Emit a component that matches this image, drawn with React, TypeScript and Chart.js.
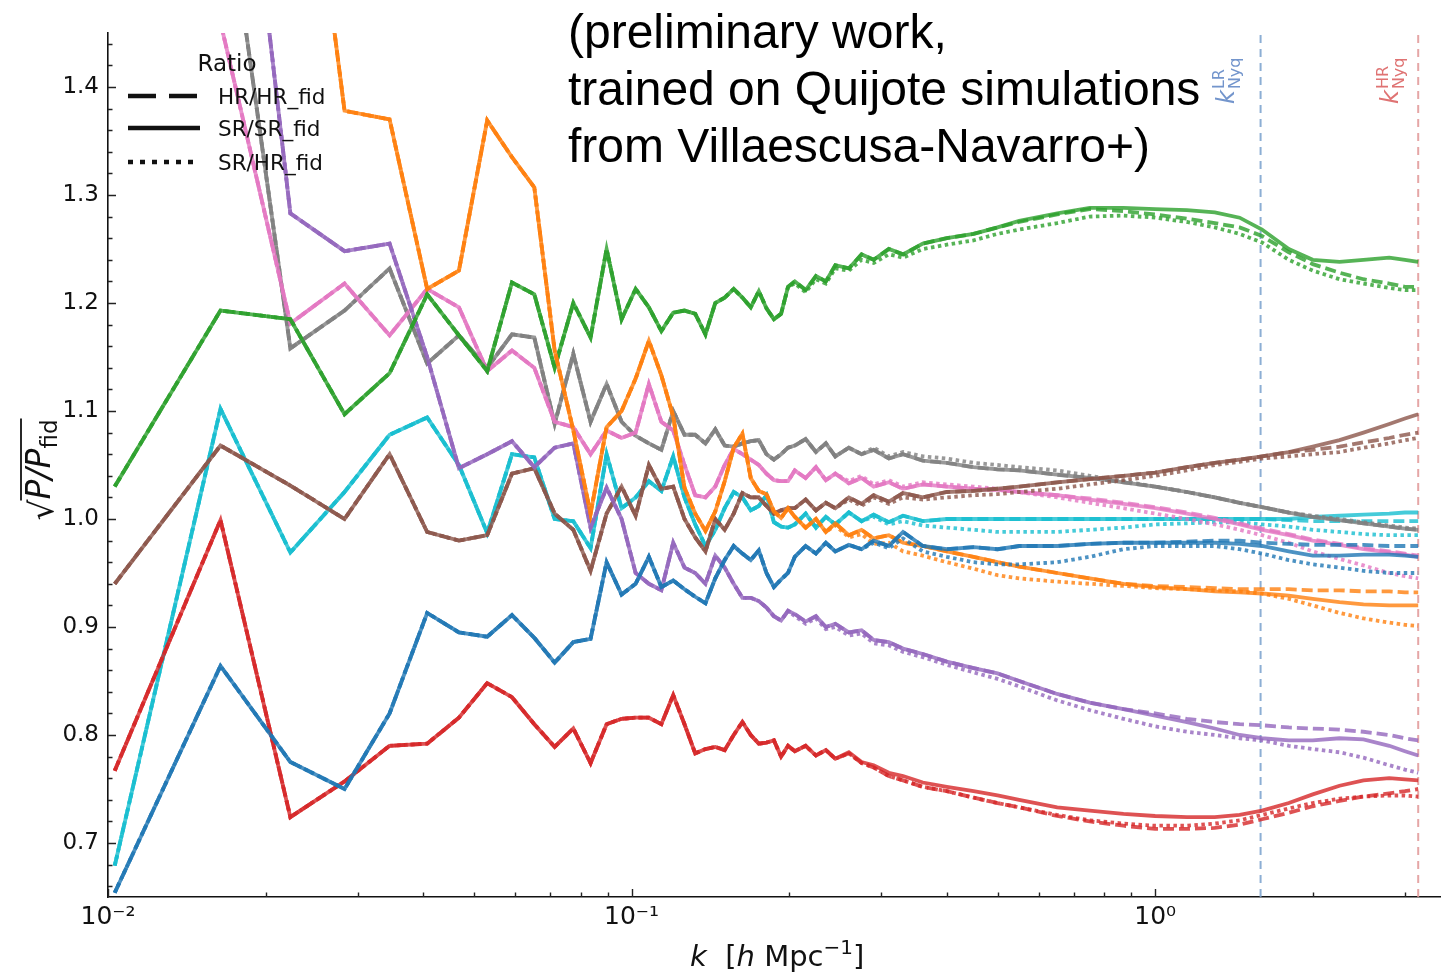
import { useEffect, useRef } from "react";
import { Chart, registerables } from "chart.js";
Chart.register(...registerables);

// k grid (h/Mpc): linearly binned low-k part, then coarser high-k part
const kLow = [0.0103, 0.0164, 0.0223, 0.0283, 0.0345, 0.0407, 0.0468, 0.053, 0.0591, 0.0652, 0.0713, 0.0774, 0.0835, 0.0896, 0.0957, 0.1018, 0.1079, 0.114, 0.1201, 0.1262, 0.1323, 0.1384, 0.1445, 0.1506, 0.1567, 0.1628, 0.1689, 0.175, 0.181, 0.187, 0.193, 0.199];
const kHigh = [0.205, 0.215, 0.225, 0.235, 0.245, 0.26, 0.275, 0.29, 0.31, 0.33, 0.36, 0.4, 0.45, 0.5, 0.55, 0.65, 0.75, 0.87, 1.0, 1.15, 1.3, 1.45, 1.6, 1.8, 2.0, 2.25, 2.5, 2.8, 3.0, 3.18];

// low-k values (all three ratios coincide there)
const blueLow = [0.654, 0.864, 0.775, 0.75, 0.82, 0.913, 0.895, 0.891, 0.911, 0.89, 0.867, 0.886, 0.889, 0.96, 0.93, 0.94, 0.965, 0.937, 0.943, 0.935, 0.928, 0.922, 0.945, 0.962, 0.975, 0.968, 0.962, 0.971, 0.95, 0.937, 0.944, 0.95];
const orangeLow = [2.6, 2.2, 1.77, 1.378, 1.37, 1.213, 1.23, 1.369, 1.335, 1.307, 1.156, 1.082, 1.005, 1.085, 1.1, 1.13, 1.165, 1.133, 1.095, 1.029, 1.005, 0.989, 1.007, 1.035, 1.066, 1.079, 1.038, 1.026, 1.023, 1.007, 1.001, 1.01];
const greenLow = [1.03, 1.193, 1.185, 1.097, 1.135, 1.208, 1.17, 1.137, 1.219, 1.208, 1.14, 1.2, 1.168, 1.25, 1.185, 1.213, 1.196, 1.174, 1.191, 1.193, 1.19, 1.171, 1.2, 1.205, 1.213, 1.205, 1.196, 1.211, 1.195, 1.185, 1.19, 1.215];
const redLow = [0.767, 0.999, 0.724, 0.757, 0.79, 0.792, 0.816, 0.848, 0.835, 0.81, 0.789, 0.806, 0.774, 0.81, 0.815, 0.816, 0.816, 0.81, 0.837, 0.81, 0.783, 0.787, 0.789, 0.786, 0.8, 0.812, 0.8, 0.792, 0.793, 0.795, 0.78, 0.79];
const purpleLow = [2.4, 1.84, 1.283, 1.248, 1.255, 1.15, 1.047, 1.06, 1.072, 1.048, 1.066, 1.07, 0.992, 1.029, 1.0, 0.95, 0.94, 0.934, 0.978, 0.955, 0.95, 0.94, 0.966, 0.955, 0.94, 0.927, 0.927, 0.924, 0.918, 0.91, 0.906, 0.915];
const brownLow = [0.94, 1.068, 1.031, 1.0, 1.06, 0.988, 0.98, 0.985, 1.042, 1.047, 1.005, 0.99, 0.952, 1.005, 1.03, 1.003, 1.05, 1.028, 1.03, 1.0, 0.983, 0.97, 1.0, 0.99, 1.005, 1.024, 1.02, 1.02, 1.012, 1.005, 1.008, 1.01];
const pinkLow = [2.0, 1.46, 1.181, 1.218, 1.17, 1.213, 1.196, 1.137, 1.156, 1.14, 1.09, 1.085, 1.06, 1.082, 1.075, 1.08, 1.125, 1.09, 1.082, 1.05, 1.022, 1.02, 1.03, 1.05, 1.065, 1.06, 1.055, 1.05, 1.042, 1.036, 1.035, 1.035];
const grayLow = [2.2, 1.62, 1.158, 1.193, 1.232, 1.144, 1.17, 1.14, 1.171, 1.168, 1.088, 1.153, 1.09, 1.125, 1.09, 1.077, 1.07, 1.064, 1.1, 1.078, 1.078, 1.07, 1.083, 1.068, 1.067, 1.07, 1.072, 1.073, 1.06, 1.055, 1.06, 1.066];
const cyanLow = [0.679, 1.102, 0.969, 1.025, 1.078, 1.094, 1.05, 0.987, 1.06, 1.057, 1.0, 0.998, 0.973, 1.06, 1.01, 1.02, 1.035, 1.026, 1.058, 1.02, 0.995, 0.975, 0.99, 1.01, 1.025, 1.02, 1.008, 1.012, 1.022, 0.997, 0.993, 0.992];

// high-k values per ratio: HR/HR_fid (dashed), SR/SR_fid (solid), SR/HR_fid (dotted)
const blueDashed = [0.965, 0.975, 0.968, 0.978, 0.97, 0.976, 0.972, 0.98, 0.975, 0.988, 0.975, 0.972, 0.974, 0.972, 0.975, 0.975, 0.977, 0.978, 0.978, 0.979, 0.98, 0.98, 0.978, 0.977, 0.976, 0.976, 0.976, 0.975, 0.975, 0.975];
const blueSolid = [0.965, 0.975, 0.968, 0.978, 0.97, 0.976, 0.972, 0.98, 0.975, 0.988, 0.975, 0.972, 0.974, 0.972, 0.975, 0.975, 0.977, 0.978, 0.978, 0.978, 0.978, 0.977, 0.975, 0.97, 0.966, 0.966, 0.967, 0.967, 0.966, 0.965];
const blueDotted = [0.965, 0.975, 0.968, 0.978, 0.97, 0.976, 0.972, 0.978, 0.973, 0.982, 0.97, 0.965, 0.96, 0.958, 0.958, 0.96, 0.965, 0.972, 0.975, 0.975, 0.975, 0.972, 0.968, 0.962, 0.958, 0.955, 0.952, 0.95, 0.95, 0.95];

const orangeDashed = [1.002, 0.992, 1.0, 0.988, 0.996, 0.985, 0.99, 0.982, 0.985, 0.978, 0.975, 0.97, 0.965, 0.96, 0.956, 0.95, 0.945, 0.94, 0.938, 0.937, 0.936, 0.935, 0.935, 0.935, 0.934, 0.934, 0.933, 0.933, 0.932, 0.932];
const orangeSolid = [1.002, 0.992, 1.0, 0.988, 0.996, 0.985, 0.99, 0.982, 0.985, 0.978, 0.975, 0.97, 0.965, 0.96, 0.956, 0.95, 0.945, 0.94, 0.937, 0.935, 0.933, 0.932, 0.931, 0.929, 0.926, 0.923, 0.921, 0.92, 0.92, 0.92];
const orangeDotted = [1.002, 0.992, 1.0, 0.988, 0.994, 0.983, 0.986, 0.977, 0.978, 0.97, 0.966, 0.96, 0.954, 0.948, 0.945, 0.942, 0.94, 0.938, 0.936, 0.935, 0.934, 0.933, 0.931, 0.926, 0.92, 0.913, 0.908, 0.904, 0.902, 0.901];

const greenDashed = [1.22, 1.212, 1.225, 1.22, 1.235, 1.232, 1.245, 1.24, 1.25, 1.245, 1.255, 1.26, 1.264, 1.27, 1.275, 1.282, 1.287, 1.285, 1.282, 1.278, 1.274, 1.27, 1.262, 1.247, 1.236, 1.228, 1.222, 1.218, 1.215, 1.215];
const greenSolid = [1.22, 1.212, 1.225, 1.22, 1.235, 1.232, 1.245, 1.24, 1.25, 1.245, 1.255, 1.26, 1.264, 1.27, 1.276, 1.283, 1.288, 1.288, 1.287, 1.286, 1.284, 1.279, 1.268, 1.25, 1.24, 1.238, 1.24, 1.242, 1.24, 1.238];
const greenDotted = [1.218, 1.21, 1.222, 1.218, 1.232, 1.23, 1.24, 1.237, 1.245, 1.242, 1.25, 1.254, 1.258, 1.264, 1.268, 1.274, 1.28, 1.281, 1.279, 1.275, 1.27, 1.264, 1.256, 1.24, 1.23, 1.222, 1.218, 1.214, 1.212, 1.212];

const redDashed = [0.785, 0.79, 0.781, 0.786, 0.778, 0.783, 0.774, 0.77, 0.762, 0.758, 0.752, 0.748, 0.742, 0.737, 0.733, 0.725, 0.72, 0.716, 0.713, 0.713, 0.714, 0.717, 0.722, 0.728, 0.734, 0.739, 0.743, 0.746, 0.748, 0.75];
const redSolid = [0.785, 0.79, 0.781, 0.786, 0.778, 0.784, 0.775, 0.772, 0.765, 0.762, 0.756, 0.752, 0.748, 0.744, 0.74, 0.733, 0.73, 0.727, 0.725, 0.724, 0.724, 0.726, 0.73, 0.737, 0.745, 0.753, 0.758, 0.76, 0.759, 0.758];
const redDotted = [0.785, 0.79, 0.781, 0.786, 0.778, 0.783, 0.774, 0.77, 0.762, 0.758, 0.752, 0.748, 0.742, 0.737, 0.733, 0.726, 0.721, 0.718, 0.716, 0.716, 0.718, 0.721, 0.726, 0.732, 0.737, 0.741, 0.743, 0.744, 0.744, 0.743];

const purpleDashed = [0.912, 0.905, 0.91, 0.9, 0.903, 0.895, 0.897, 0.888, 0.886, 0.88, 0.875, 0.868, 0.862, 0.857, 0.85, 0.838, 0.83, 0.824, 0.82, 0.815, 0.812, 0.81, 0.809, 0.807, 0.806, 0.805, 0.803, 0.8, 0.797, 0.795];
const purpleSolid = [0.912, 0.905, 0.91, 0.9, 0.903, 0.895, 0.897, 0.888, 0.886, 0.88, 0.875, 0.868, 0.862, 0.857, 0.85, 0.838, 0.83, 0.824, 0.818, 0.812, 0.806, 0.8, 0.797, 0.795, 0.795, 0.797, 0.796, 0.79, 0.785, 0.781];
const purpleDotted = [0.91, 0.903, 0.908, 0.898, 0.9, 0.892, 0.894, 0.885, 0.883, 0.877, 0.872, 0.865, 0.858, 0.852, 0.845, 0.832, 0.823, 0.815, 0.808, 0.803, 0.8, 0.797, 0.795, 0.79, 0.787, 0.784, 0.779, 0.772, 0.768, 0.765];

const brownDashed = [1.01, 1.018, 1.008, 1.015, 1.01, 1.02, 1.014, 1.022, 1.016, 1.024, 1.02, 1.025, 1.026, 1.028, 1.03, 1.034, 1.037, 1.04, 1.043, 1.048, 1.052, 1.055, 1.058, 1.062, 1.064, 1.067, 1.071, 1.075, 1.078, 1.08];
const brownSolid = [1.01, 1.018, 1.008, 1.015, 1.01, 1.02, 1.014, 1.022, 1.016, 1.024, 1.02, 1.025, 1.026, 1.028, 1.03, 1.034, 1.037, 1.04, 1.043, 1.048, 1.052, 1.055, 1.058, 1.062, 1.067, 1.073, 1.08, 1.088, 1.093, 1.097];
const brownDotted = [1.01, 1.018, 1.008, 1.015, 1.01, 1.018, 1.012, 1.02, 1.014, 1.02, 1.018, 1.02, 1.022, 1.023, 1.025, 1.028, 1.032, 1.036, 1.04, 1.045, 1.05, 1.053, 1.056, 1.058, 1.06, 1.062, 1.066, 1.07, 1.073, 1.075];

const pinkDashed = [1.045, 1.038, 1.048, 1.036, 1.042, 1.033, 1.038, 1.03, 1.034, 1.028, 1.032, 1.03, 1.028, 1.027, 1.025, 1.022, 1.019, 1.015, 1.011, 1.006, 1.001, 0.996, 0.991, 0.986, 0.981, 0.977, 0.973, 0.97, 0.968, 0.966];
const pinkSolid = [1.045, 1.038, 1.048, 1.036, 1.042, 1.033, 1.038, 1.03, 1.034, 1.028, 1.032, 1.03, 1.028, 1.027, 1.025, 1.022, 1.018, 1.014, 1.01, 1.005, 1.0, 0.995, 0.99, 0.985, 0.98, 0.976, 0.972, 0.969, 0.967, 0.965];
const pinkDotted = [1.045, 1.038, 1.048, 1.036, 1.042, 1.035, 1.04, 1.032, 1.036, 1.03, 1.034, 1.032, 1.03, 1.028, 1.025, 1.02, 1.015, 1.01, 1.005, 1.0, 0.995, 0.99, 0.985, 0.978, 0.97, 0.963, 0.957, 0.95, 0.947, 0.945];

const grayDashed = [1.068, 1.074, 1.062, 1.07, 1.058, 1.066, 1.06, 1.064, 1.056, 1.06, 1.054, 1.052, 1.048, 1.046, 1.045, 1.041, 1.038, 1.034, 1.03, 1.025, 1.02, 1.015, 1.011, 1.006, 1.002, 0.999, 0.996, 0.993, 0.991, 0.99];
const graySolid = [1.068, 1.074, 1.062, 1.07, 1.058, 1.066, 1.06, 1.064, 1.056, 1.06, 1.054, 1.052, 1.048, 1.046, 1.045, 1.041, 1.038, 1.034, 1.03, 1.025, 1.02, 1.015, 1.011, 1.006, 1.002, 0.999, 0.996, 0.993, 0.991, 0.99];
const grayDotted = [1.068, 1.074, 1.062, 1.07, 1.058, 1.066, 1.06, 1.066, 1.058, 1.062, 1.058, 1.056, 1.052, 1.05, 1.048, 1.045, 1.04, 1.035, 1.03, 1.025, 1.02, 1.015, 1.011, 1.006, 1.003, 1.0, 0.997, 0.994, 0.992, 0.991];

const cyanDashed = [0.995, 1.005, 0.992, 1.002, 0.995, 1.006, 0.998, 1.004, 0.997, 1.003, 0.998, 1.0, 1.0, 1.0, 1.0, 1.0, 1.0, 1.0, 1.0, 1.0, 1.0, 1.0, 1.0, 0.999, 0.998, 0.998, 0.998, 0.998, 0.998, 0.998];
const cyanSolid = [0.995, 1.005, 0.992, 1.002, 0.995, 1.006, 0.998, 1.004, 0.997, 1.003, 0.998, 1.0, 1.0, 1.0, 1.0, 1.0, 1.0, 1.0, 1.0, 1.0, 1.0, 1.0, 1.0, 1.0, 1.002, 1.003, 1.004, 1.005, 1.006, 1.006];
const cyanDotted = [0.995, 1.005, 0.992, 1.002, 0.995, 1.006, 0.998, 1.002, 0.995, 0.998, 0.994, 0.992, 0.99, 0.988, 0.988, 0.988, 0.99, 0.992, 0.995, 0.996, 0.997, 0.997, 0.995, 0.993, 0.99, 0.988, 0.986, 0.985, 0.985, 0.985];

// axes
const xMin = 0.01;
const xMax = 3.5;
const yMin = 0.65;
const yMax = 1.45;
const xTicks = [0.01, 0.1, 1];
const xTickLabels = ["10⁻²", "10⁻¹", "10⁰"];
const yTicks = [0.7, 0.8, 0.9, 1.0, 1.1, 1.2, 1.3, 1.4];
const kNyqLR = 1.59;
const kNyqHR = 3.18;

const legendTitle = "Ratio";
const legendLabels = ["HR/HR_fid", "SR/SR_fid", "SR/HR_fid"];
const noteLines = ["(preliminary work,", "trained on Quijote simulations", "from Villaescusa-Navarro+)"];

const groups = [
  { rgb: "31,119,180", low: blueLow, dashed: blueDashed, solid: blueSolid, dotted: blueDotted },
  { rgb: "255,127,14", low: orangeLow, dashed: orangeDashed, solid: orangeSolid, dotted: orangeDotted },
  { rgb: "44,160,44", low: greenLow, dashed: greenDashed, solid: greenSolid, dotted: greenDotted },
  { rgb: "214,39,40", low: redLow, dashed: redDashed, solid: redSolid, dotted: redDotted },
  { rgb: "148,103,189", low: purpleLow, dashed: purpleDashed, solid: purpleSolid, dotted: purpleDotted },
  { rgb: "140,86,75", low: brownLow, dashed: brownDashed, solid: brownSolid, dotted: brownDotted },
  { rgb: "227,119,194", low: pinkLow, dashed: pinkDashed, solid: pinkSolid, dotted: pinkDotted },
  { rgb: "127,127,127", low: grayLow, dashed: grayDashed, solid: graySolid, dotted: grayDotted },
  { rgb: "23,190,207", low: cyanLow, dashed: cyanDashed, solid: cyanSolid, dotted: cyanDotted },
];

const FONT = "'DejaVu Sans', sans-serif";

function buildData(low: number[], high: number[]) {
  const pts = kLow.map((k, i) => ({ x: k, y: low[i] }));
  return pts.concat(kHigh.map((k, i) => ({ x: k, y: high[i] })));
}

const overlay = {
  id: "overlay",
  afterDraw(chart: any) {
    const ctx: CanvasRenderingContext2D = chart.ctx;
    const xs = chart.scales.x;
    const ys = chart.scales.y;
    const a = chart.chartArea;
    ctx.save();
    // inward ticks
    ctx.strokeStyle = "#222";
    ctx.lineWidth = 1.4;
    ctx.beginPath();
    for (const d of [0.01, 0.1, 1]) {
      for (let m = 1; m < 10; m++) {
        const v = d * m;
        if (v < xMin || v > xMax) continue;
        const px = Math.round(xs.getPixelForValue(v)) + 0.5;
        const len = m === 1 ? 8 : 4.5;
        ctx.moveTo(px, a.bottom);
        ctx.lineTo(px, a.bottom - len);
      }
    }
    for (let i = 33; i <= 72; i++) {
      const v = i * 0.02;
      if (v < yMin || v > yMax) continue;
      const major = i % 5 === 0;
      const py = Math.round(ys.getPixelForValue(v)) + 0.5;
      ctx.moveTo(a.left, py);
      ctx.lineTo(a.left + (major ? 8 : 4.5), py);
    }
    ctx.stroke();

    // legend
    ctx.fillStyle = "#111";
    ctx.font = `23px ${FONT}`;
    ctx.textAlign = "center";
    ctx.textBaseline = "alphabetic";
    ctx.fillText(legendTitle, 227, 71);
    const dashes = [[28, 13], [], [5, 7]];
    const ly = [96, 128, 162];
    ctx.font = `21.5px ${FONT}`;
    ctx.textAlign = "left";
    for (let i = 0; i < 3; i++) {
      ctx.beginPath();
      ctx.setLineDash(dashes[i]);
      ctx.lineWidth = 4.5;
      ctx.lineCap = "butt";
      ctx.strokeStyle = "#111";
      ctx.moveTo(128, ly[i]);
      ctx.lineTo(200, ly[i]);
      ctx.stroke();
      ctx.fillText(legendLabels[i], 218, ly[i] + 8);
    }
    ctx.setLineDash([]);

    // note text
    ctx.font = `48px 'Liberation Sans', Arial, sans-serif`;
    ctx.fillStyle = "#000";
    noteLines.forEach((t, i) => ctx.fillText(t, 568, 48 + i * 57));

    // k_Nyq labels (rotated)
    const nyq = (x: number, y: number, sup: string, color: string) => {
      ctx.save();
      ctx.translate(x, y);
      ctx.rotate(-Math.PI / 2);
      ctx.fillStyle = color;
      ctx.textAlign = "left";
      ctx.font = `italic 24px ${FONT}`;
      ctx.fillText("k", 0, 0);
      const w = ctx.measureText("k").width;
      ctx.font = `16px ${FONT}`;
      ctx.fillText(sup, w + 1, -10);
      ctx.fillText("Nyq", w + 1, 6);
      ctx.restore();
    };
    nyq(xs.getPixelForValue(kNyqLR) - 27, 104, "LR", "rgba(90,130,195,0.85)");
    nyq(xs.getPixelForValue(kNyqHR) - 20, 104, "HR", "rgba(215,80,80,0.8)");

    // x axis title: k  [h Mpc^-1]
    {
      const parts = [
        { t: "k", f: `italic 29px ${FONT}`, dy: 0 },
        { t: "  [", f: `29px ${FONT}`, dy: 0 },
        { t: "h", f: `italic 29px ${FONT}`, dy: 0 },
        { t: " Mpc", f: `29px ${FONT}`, dy: 0 },
        { t: "−1", f: `20px ${FONT}`, dy: -12 },
        { t: "]", f: `29px ${FONT}`, dy: 0 },
      ];
      let x = 690;
      ctx.fillStyle = "#111";
      for (const p of parts) {
        ctx.font = p.f;
        ctx.fillText(p.t, x, 966 + p.dy);
        x += ctx.measureText(p.t).width;
      }
    }

    // y axis title: sqrt(P/P_fid)
    {
      ctx.save();
      ctx.translate(50, 470);
      ctx.rotate(-Math.PI / 2);
      ctx.fillStyle = "#111";
      const parts = [
        { t: "P/P", f: `italic 33px ${FONT}`, dy: 0 },
        { t: "fid", f: `23px ${FONT}`, dy: 7 },
      ];
      ctx.font = `33px ${FONT}`;
      const ws = ctx.measureText("√").width;
      let total = ws;
      for (const p of parts) { ctx.font = p.f; total += ctx.measureText(p.t).width; }
      let x = -total / 2;
      ctx.font = `33px ${FONT}`;
      ctx.fillText("√", x, 3);
      x += ws;
      const x0 = x;
      for (const p of parts) {
        ctx.font = p.f;
        ctx.fillText(p.t, x, p.dy);
        x += ctx.measureText(p.t).width;
      }
      ctx.beginPath();
      ctx.lineWidth = 1.8;
      ctx.strokeStyle = "#111";
      ctx.moveTo(x0 - 1, -29);
      ctx.lineTo(x + 1, -29);
      ctx.stroke();
      ctx.restore();
    }
    ctx.restore();
  },
};

export default function App() {
  const ref = useRef<HTMLCanvasElement>(null);
  useEffect(() => {
    document.body.style.margin = "0";
    document.body.style.overflow = "hidden";
    const canvas = ref.current!;
    const datasets: any[] = [];
    const styles = [
      { key: "dashed", dash: [11, 5] },
      { key: "solid", dash: [] },
      { key: "dotted", dash: [3.5, 3.5] },
    ];
    for (const g of groups) {
      for (const s of styles) {
        datasets.push({
          data: buildData(g.low, (g as any)[s.key]),
          borderColor: `rgba(${g.rgb},0.8)`,
          borderWidth: 3.8,
          borderDash: s.dash,
          pointRadius: 0,
          tension: 0,
          fill: false,
        });
      }
    }
    datasets.push({
      data: [{ x: kNyqLR, y: yMin }, { x: kNyqLR, y: yMax }],
      borderColor: "rgba(120,160,205,0.85)",
      borderWidth: 2,
      borderDash: [8, 6],
      pointRadius: 0,
    });
    datasets.push({
      data: [{ x: kNyqHR, y: yMin }, { x: kNyqHR, y: yMax }],
      borderColor: "rgba(225,150,150,0.85)",
      borderWidth: 2,
      borderDash: [8, 6],
      pointRadius: 0,
    });

    const chart = new Chart(canvas, {
      type: "line",
      data: { datasets },
      options: {
        animation: false,
        responsive: false,
        devicePixelRatio: 1,
        layout: { padding: { left: 0, right: 1, top: 33, bottom: 0 } },
        plugins: { legend: { display: false }, tooltip: { enabled: false }, title: { display: false } },
        scales: {
          x: {
            type: "logarithmic",
            min: xMin,
            max: xMax,
            afterBuildTicks: (s: any) => { s.ticks = xTicks.map((v) => ({ value: v })); },
            afterFit: (s: any) => { s.height = 77; },
            ticks: {
              autoSkip: false,
              maxRotation: 0,
              padding: 5,
              color: "#111",
              font: { family: "DejaVu Sans", size: 25 },
              callback: (v: any) => {
                const i = xTicks.indexOf(Number(v));
                return i >= 0 ? xTickLabels[i] : "";
              },
            },
            grid: { display: true, drawOnChartArea: false, drawTicks: false },
            border: { display: true, color: "#111", width: 1.6 },
          },
          y: {
            type: "linear",
            min: yMin,
            max: yMax,
            afterBuildTicks: (s: any) => { s.ticks = yTicks.map((v) => ({ value: v })); },
            afterFit: (s: any) => { s.width = 108; },
            ticks: {
              autoSkip: false,
              padding: 9,
              color: "#111",
              font: { family: "DejaVu Sans", size: 23 },
              callback: (v: any) => Number(v).toFixed(1),
            },
            grid: { display: true, drawOnChartArea: false, drawTicks: false },
            border: { display: true, color: "#111", width: 1.6 },
          },
        },
      },
      plugins: [overlay],
    } as any);
    return () => chart.destroy();
  }, []);
  return (
    <div style={{ width: 1441, height: 974, position: "relative" }}>
      <canvas ref={ref} width={1441} height={974} style={{ display: "block" }} />
    </div>
  );
}
